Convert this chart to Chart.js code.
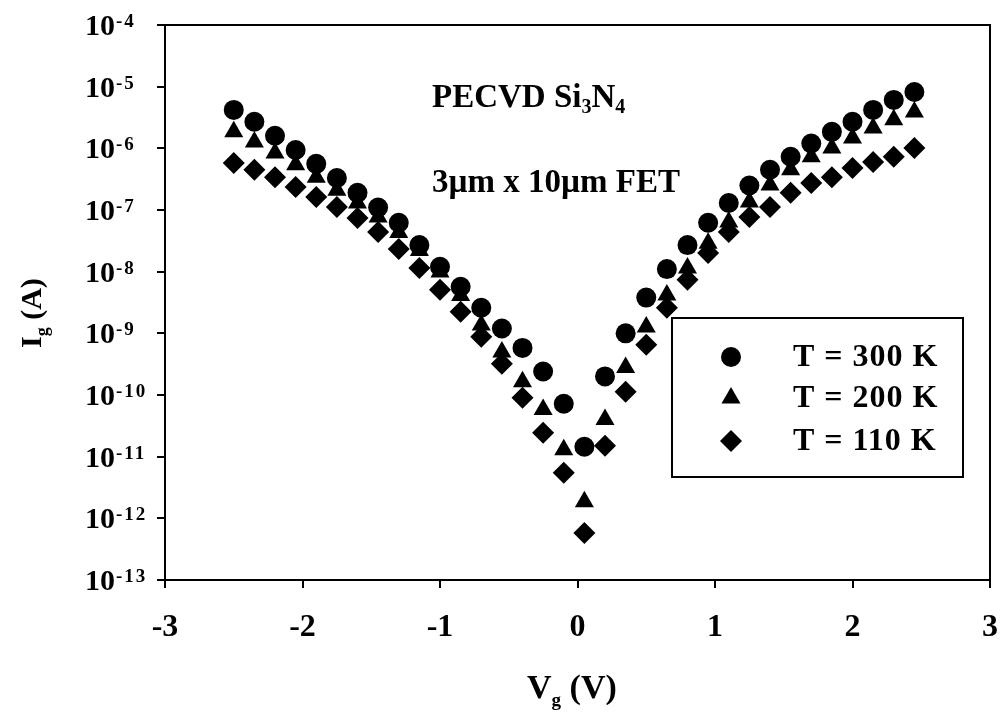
<!DOCTYPE html>
<html><head><meta charset="utf-8">
<script src="https://cdn.jsdelivr.net/npm/chart.js@4.4.1/dist/chart.umd.min.js"></script>
<style>html,body{margin:0;padding:0;background:#fff;}#wrap{width:1002px;height:720px;}</style>
</head><body><div id="wrap"><canvas id="c" width="1002" height="720"></canvas></div>
<script>
// ---- data ----
const voltages = [-2.5, -2.35, -2.2, -2.05, -1.9, -1.75, -1.6, -1.45, -1.3, -1.15, -1.0, -0.85, -0.7, -0.55, -0.4, -0.25, -0.1, 0.05, 0.2, 0.35, 0.5, 0.65, 0.8, 0.95, 1.1, 1.25, 1.4, 1.55, 1.7, 1.85, 2.0, 2.15, 2.3, 2.45];
const current300K = [4.2e-6, 2.7e-6, 1.6e-6, 9.4e-7, 5.6e-7, 3.3e-7, 1.9e-7, 1.1e-7, 6.2e-8, 2.7e-8, 1.2e-8, 5.7e-9, 2.6e-9, 1.2e-9, 5.8e-10, 2.4e-10, 7.2e-11, 1.45e-11, 2.0e-10, 1.0e-9, 3.8e-9, 1.1e-8, 2.7e-8, 6.2e-8, 1.3e-7, 2.5e-7, 4.5e-7, 7.3e-7, 1.2e-6, 1.85e-6, 2.7e-6, 4.2e-6, 6.1e-6, 8.2e-6];
const current200K = [1.85e-6, 1.27e-6, 8.4e-7, 5.4e-7, 3.4e-7, 2.1e-7, 1.3e-7, 7.7e-8, 4.3e-8, 2.2e-8, 9.9e-9, 4.1e-9, 1.37e-9, 5.0e-10, 1.64e-10, 5.8e-11, 1.29e-11, 1.86e-12, 4.0e-11, 2.8e-10, 1.27e-9, 4.2e-9, 1.15e-8, 2.9e-8, 6.4e-8, 1.35e-7, 2.55e-7, 4.5e-7, 7.3e-7, 1.01e-6, 1.47e-6, 2.14e-6, 2.9e-6, 3.9e-6];
const current110K = [5.8e-7, 4.5e-7, 3.4e-7, 2.37e-7, 1.63e-7, 1.12e-7, 7.4e-8, 4.4e-8, 2.34e-8, 1.15e-8, 5.1e-9, 2.23e-9, 8.8e-10, 3.2e-10, 9.0e-11, 2.44e-11, 5.5e-12, 5.8e-13, 1.5e-11, 1.13e-10, 6.5e-10, 2.6e-9, 7.4e-9, 2.0e-8, 4.4e-8, 7.7e-8, 1.12e-7, 1.9e-7, 2.75e-7, 3.4e-7, 4.8e-7, 6.0e-7, 7.3e-7, 1.01e-6];
const seriesLabels = ['T = 300 K', 'T = 200 K', 'T = 110 K'];
const xTickValues = [-3, -2, -1, 0, 1, 2, 3];
const yTickExponents = [-13, -12, -11, -10, -9, -8, -7, -6, -5, -4];
const annotationLine1 = ['PECVD Si', '3', 'N', '4'];
const annotationLine2 = '3\u00b5m x 10\u00b5m FET';
const xTitle = ['V', 'g', ' (V)'];
const yTitle = ['I', 'g', ' (A)'];

const FONT = "'Liberation Serif','Times New Roman',serif";
const pts = arr => voltages.map((v, i) => ({x: v, y: arr[i]}));
const styles = ['circle', 'triangle', 'rectRot'];
const radii = [10, 11, 11];

function drawMarker(ctx, style, x, y, r) {
  ctx.beginPath();
  if (style === 'circle') ctx.arc(x, y, r, 0, Math.PI * 2);
  else if (style === 'triangle') {
    for (let k = 0; k < 3; k++) {
      const a = k * 2 * Math.PI / 3;
      const px = x + Math.sin(a) * r, py = y - Math.cos(a) * r;
      k ? ctx.lineTo(px, py) : ctx.moveTo(px, py);
    }
    ctx.closePath();
  } else {
    ctx.moveTo(x - r, y); ctx.lineTo(x, y - r); ctx.lineTo(x + r, y); ctx.lineTo(x, y + r); ctx.closePath();
  }
  ctx.fill();
}

function drawRich(ctx, x, y, parts) {
  let cx = x;
  parts.forEach(([t, size, dy]) => {
    ctx.font = `bold ${size}px ${FONT}`;
    ctx.fillText(t, cx, y + dy);
    cx += ctx.measureText(t).width;
  });
}

const decor = {
  id: 'decor',
  afterDraw(chart) {
    const ctx = chart.ctx, a = chart.chartArea, ys = chart.scales.y;
    ctx.save();
    ctx.strokeStyle = '#000'; ctx.fillStyle = '#000'; ctx.lineWidth = 2;
    ctx.beginPath(); ctx.moveTo(a.left, a.top); ctx.lineTo(a.right, a.top); ctx.lineTo(a.right, a.bottom); ctx.stroke();
    ctx.textAlign = 'left'; ctx.textBaseline = 'alphabetic';
    ys.ticks.forEach(t => {
      const py = ys.getPixelForValue(t.value);
      const e = Math.round(Math.log10(t.value));
      ctx.font = `bold 30px ${FONT}`;
      ctx.letterSpacing = '0px';
      ctx.fillText('10', 85, py + 10);
      const w = ctx.measureText('10').width;
      ctx.font = `bold 19px ${FONT}`;
      ctx.letterSpacing = '2px';
      ctx.fillText(String(e), 85 + w + 1, py + 2);
    });
    ctx.letterSpacing = '0px';
    drawRich(ctx, 432, 107, [[annotationLine1[0], 33, 0], [annotationLine1[1], 20, 6], [annotationLine1[2], 33, 0], [annotationLine1[3], 20, 6]]);
    ctx.font = `bold 33px ${FONT}`;
    ctx.fillText(annotationLine2, 432, 192);
    drawRich(ctx, 527, 698, [[xTitle[0], 34, 0], [xTitle[1], 19, 8], [xTitle[2], 34, 0]]);
    ctx.save();
    ctx.translate(41, 348);
    ctx.rotate(-Math.PI / 2);
    drawRich(ctx, 0, 0, [[yTitle[0], 30, 0], [yTitle[1], 18, 7], [yTitle[2], 30, 0]]);
    ctx.restore();
    const L = {x: 672, y: 318, w: 291, h: 159};
    ctx.fillStyle = '#fff';
    ctx.fillRect(L.x, L.y, L.w, L.h);
    ctx.strokeRect(L.x, L.y, L.w, L.h);
    ctx.fillStyle = '#000';
    const rows = [357, 398, 441];
    chart.data.datasets.forEach((ds, i) => {
      drawMarker(ctx, ds.pointStyle, 731, rows[i], ds.pointRadius);
      ctx.font = `bold 32px ${FONT}`;
      ctx.textBaseline = 'middle';
      ctx.letterSpacing = '1px';
      ctx.fillText(ds.label, 793, rows[i] + 1);
      ctx.letterSpacing = '0px';
      ctx.textBaseline = 'alphabetic';
    });
    ctx.restore();
  }
};

const datasets = [current300K, current200K, current110K].map((arr, i) => ({
  label: seriesLabels[i],
  data: pts(arr),
  pointStyle: styles[i],
  pointRadius: radii[i],
  backgroundColor: '#000',
  borderColor: '#000',
  borderWidth: 0,
  showLine: false
}));

new Chart(document.getElementById('c'), {
  type: 'scatter',
  data: {datasets},
  options: {
    responsive: false,
    animation: false,
    devicePixelRatio: 1,
    layout: {padding: {top: 25, right: 12, left: 0, bottom: 0}},
    plugins: {legend: {display: false}, tooltip: {enabled: false}},
    scales: {
      x: {
        type: 'linear', min: -3, max: 3,
        afterBuildTicks: s => { s.ticks = xTickValues.map(v => ({value: v})); },
        afterFit: s => { s.height = 140; s.paddingRight = 0; s.paddingLeft = 0; },
        grid: {drawOnChartArea: false, drawTicks: true, tickLength: 8, color: '#000', lineWidth: 2},
        border: {display: true, color: '#000', width: 2},
        ticks: {color: '#000', font: {family: FONT, size: 32, weight: 'bold'}, padding: 21, maxRotation: 0,
          callback: v => String(v)}
      },
      y: {
        type: 'logarithmic', min: 1e-13, max: 1e-4,
        afterBuildTicks: s => { s.ticks = yTickExponents.map(e => ({value: Number('1e' + e)})); },
        afterFit: s => { s.width = 165; s.paddingTop = 0; s.paddingBottom = 0; },
        grid: {drawOnChartArea: false, drawTicks: true, tickLength: 8, color: '#000', lineWidth: 2},
        border: {display: true, color: '#000', width: 2},
        ticks: {callback: () => ''}
      }
    }
  },
  plugins: [decor]
});
</script></body></html>
